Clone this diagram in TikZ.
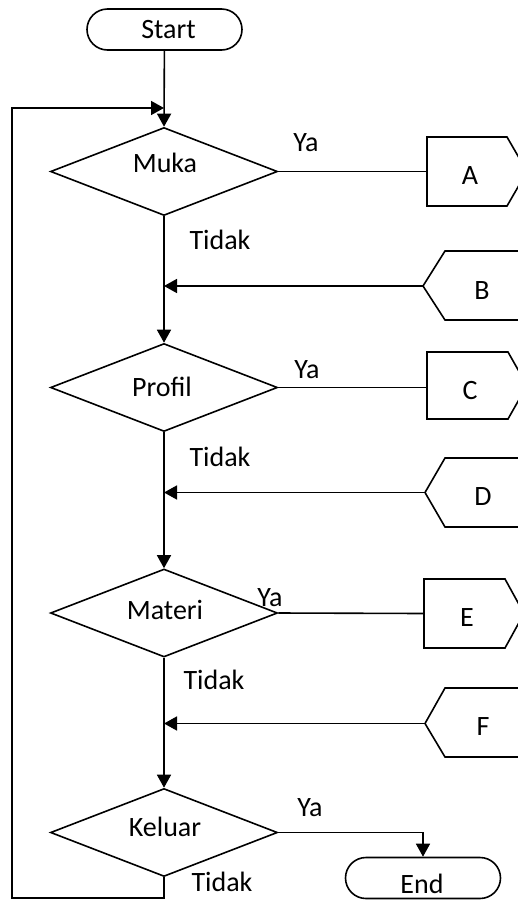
\documentclass[tikz,border=0pt]{standalone}
\usepackage{fontspec}
\setmainfont{Carlito}
\usetikzlibrary{shapes.geometric,arrows.meta}
\begin{document}
\begin{tikzpicture}[x=1pt,y=-1pt,
  line width=1.6pt,
  dec/.style={diamond,draw,minimum width=227pt,minimum height=88pt,inner sep=0pt},
  term/.style={draw,rectangle,rounded corners=20.5pt,minimum width=155pt,minimum height=41pt,inner sep=0pt,font=\fontsize{28}{32}\selectfont},
  txt/.style={inner sep=0pt,font=\fontsize{28}{32}\selectfont},
  arr/.style={-{Triangle[length=13pt,width=14pt]}},
  outline/.style={draw,line width=1.6pt,line join=miter},
]
\useasboundingbox (0,0) rectangle (518,900);
\clip (0,0) rectangle (518,900);

% terminals
\node[term] (start) at (164.5,29.5) {\raisebox{-2pt}{\hspace{8pt}Start}};
\node[term] (end) at (423,878) {};
\node[txt] (endt) at (422,884) {End};

% decisions
\node[dec] (muka) at (164,171.5) {};
\node[dec] (profil) at (164,387.5) {};
\node[dec] (materi) at (164,613) {};
\node[dec] (keluar) at (164,832.5) {};
\node[txt] (mukat) at (165,163) {Muka};
\node[txt] (profilt) at (162,386.5) {Profil};
\node[txt] (materit) at (165,610) {Materi};
\node[txt] (keluart) at (165,826.5) {Keluar};

% off-page connectors pointing right (A, C, E)
\draw[outline] (427,137) -- (507,137) -- (527,171.5) -- (507,206) -- (427,206) -- cycle;
\coordinate (Ain) at (427,171.5);
\node[txt] (A) at (470,176) {A};
\draw[outline] (427,352) -- (508,352) -- (527,385.5) -- (508,419) -- (427,419) -- cycle;
\coordinate (Cin) at (427,387.5);
\node[txt] (C) at (470,391) {C};
\draw[outline] (424,579) -- (505,579) -- (524,613.5) -- (505,648) -- (424,648) -- cycle;
\coordinate (Ein) at (424,613.5);
\node[txt] (E) at (467,618) {E};

% connectors pointing left (B, D, F)
\draw[outline] (540,251) -- (445,251) -- (423,286) -- (445,320) -- (540,320);
\coordinate (Bout) at (423,286);
\node[txt] (B) at (482,291) {B};
\draw[outline] (540,458) -- (445,458) -- (425,492.5) -- (445,527) -- (540,527);
\coordinate (Dout) at (425,492.5);
\node[txt] (D) at (483,497) {D};
\draw[outline] (540,688) -- (445,688) -- (425,723.5) -- (445,757) -- (540,757);
\coordinate (Fout) at (425,723.5);
\node[txt] (F) at (483,727) {F};

% junctions
\coordinate (jTop) at (164,108);
\coordinate (jB) at (164,286);
\coordinate (jD) at (164,492.5);
\coordinate (jF) at (164,723.5);
\coordinate (loopBL) at (12,898);

% main flow
\draw[arr] (start) -- (muka.north);
\draw[arr] (muka.south) -- (profil.north);
\draw[arr] (profil.south) -- (materi.north);
\draw[arr] (materi.south) -- (keluar.north);
\draw[arr] (Bout) -- (jB);
\draw[arr] (Dout) -- (jD);
\draw[arr] (Fout) -- (jF);

% yes branches
\draw (muka.east) -- (Ain);
\draw (profil.east) -- (Cin);
\draw (materi.east) -- (Ein);
\draw[arr] (keluar.east) -| (end.north);

% loop back
\draw[arr] (keluar.south) |- (loopBL) |- (jTop);

% labels
\node[txt] (ya1) at (306,143) {Ya};
\node[txt] (ya2) at (307,370) {Ya};
\node[txt] (ya3) at (270,598) {Ya};
\node[txt] (ya4) at (310,808) {Ya};
\node[txt] (no1) at (220,240) {Tidak};
\node[txt] (no2) at (220,457) {Tidak};
\node[txt] (no3) at (214,680) {Tidak};
\node[txt] (no4) at (222,882) {Tidak};
\end{tikzpicture}
\end{document}
